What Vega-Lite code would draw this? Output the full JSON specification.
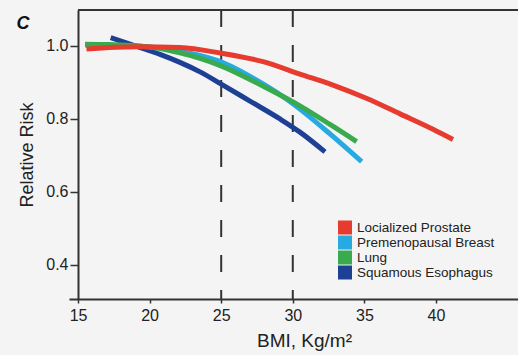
{
  "$schema": "https://vega.github.io/schema/vega-lite/v6.json",
  "width": 449,
  "height": 289,
  "autosize": "none",
  "padding": {"left": 69, "top": 10, "right": 0, "bottom": 56},
  "background": "#f4f4f4",
  "config": {
    "view": {"stroke": null},
    "font": "Liberation Sans"
  },
  "datasets": {
    "curves": [
      {"bmi": 17.28, "rr": 1.023, "site": "Squamous Esophagus"},
      {"bmi": 19.10, "rr": 0.999, "site": "Squamous Esophagus"},
      {"bmi": 20.73, "rr": 0.977, "site": "Squamous Esophagus"},
      {"bmi": 22.12, "rr": 0.955, "site": "Squamous Esophagus"},
      {"bmi": 23.52, "rr": 0.929, "site": "Squamous Esophagus"},
      {"bmi": 25.03, "rr": 0.895, "site": "Squamous Esophagus"},
      {"bmi": 27.01, "rr": 0.849, "site": "Squamous Esophagus"},
      {"bmi": 29.11, "rr": 0.800, "site": "Squamous Esophagus"},
      {"bmi": 30.50, "rr": 0.764, "site": "Squamous Esophagus"},
      {"bmi": 32.25, "rr": 0.710, "site": "Squamous Esophagus"},
      {"bmi": 15.49, "rr": 1.003, "site": "Premenopausal Breast"},
      {"bmi": 19.10, "rr": 1.000, "site": "Premenopausal Breast"},
      {"bmi": 22.12, "rr": 0.986, "site": "Premenopausal Breast"},
      {"bmi": 23.52, "rr": 0.974, "site": "Premenopausal Breast"},
      {"bmi": 25.03, "rr": 0.956, "site": "Premenopausal Breast"},
      {"bmi": 26.45, "rr": 0.929, "site": "Premenopausal Breast"},
      {"bmi": 27.92, "rr": 0.896, "site": "Premenopausal Breast"},
      {"bmi": 29.25, "rr": 0.863, "site": "Premenopausal Breast"},
      {"bmi": 30.50, "rr": 0.827, "site": "Premenopausal Breast"},
      {"bmi": 32.60, "rr": 0.759, "site": "Premenopausal Breast"},
      {"bmi": 34.81, "rr": 0.683, "site": "Premenopausal Breast"},
      {"bmi": 15.49, "rr": 1.005, "site": "Lung"},
      {"bmi": 17.23, "rr": 1.004, "site": "Lung"},
      {"bmi": 19.10, "rr": 1.001, "site": "Lung"},
      {"bmi": 20.73, "rr": 0.993, "site": "Lung"},
      {"bmi": 22.12, "rr": 0.981, "site": "Lung"},
      {"bmi": 23.52, "rr": 0.966, "site": "Lung"},
      {"bmi": 25.03, "rr": 0.945, "site": "Lung"},
      {"bmi": 27.92, "rr": 0.890, "site": "Lung"},
      {"bmi": 30.50, "rr": 0.836, "site": "Lung"},
      {"bmi": 32.60, "rr": 0.785, "site": "Lung"},
      {"bmi": 34.46, "rr": 0.738, "site": "Lung"},
      {"bmi": 15.59, "rr": 0.992, "site": "Locialized Prostate"},
      {"bmi": 19.10, "rr": 0.998, "site": "Locialized Prostate"},
      {"bmi": 22.12, "rr": 0.996, "site": "Locialized Prostate"},
      {"bmi": 25.03, "rr": 0.980, "site": "Locialized Prostate"},
      {"bmi": 27.92, "rr": 0.957, "site": "Locialized Prostate"},
      {"bmi": 30.50, "rr": 0.923, "site": "Locialized Prostate"},
      {"bmi": 32.81, "rr": 0.893, "site": "Locialized Prostate"},
      {"bmi": 35.18, "rr": 0.856, "site": "Locialized Prostate"},
      {"bmi": 37.49, "rr": 0.814, "site": "Locialized Prostate"},
      {"bmi": 39.79, "rr": 0.772, "site": "Locialized Prostate"},
      {"bmi": 41.19, "rr": 0.744, "site": "Locialized Prostate"}
    ],
    "cuts": [{"bmi": 25}, {"bmi": 30}],
    "frame": [{"x0": 15, "x1": 45.73, "ytop": 1.0986}],
    "panel": [{"label": "C"}]
  },
  "layer": [
    {
      "data": {"name": "cuts"},
      "mark": {"type": "rule", "strokeDash": [17, 18], "strokeWidth": 2, "color": "#333333"},
      "encoding": {
        "x": {"field": "bmi", "type": "quantitative", "scale": {"domain": [14.37, 45.73], "nice": false, "zero": false}}
      }
    },
    {
      "data": {"name": "frame"},
      "mark": {"type": "rule", "strokeWidth": 2, "color": "#333333"},
      "encoding": {
        "x": {"field": "x0", "type": "quantitative", "scale": {"domain": [14.37, 45.73], "nice": false, "zero": false}},
        "x2": {"field": "x1"},
        "y": {"field": "ytop", "type": "quantitative", "scale": {"domain": [0.3068, 1.0986], "nice": false, "zero": false}}
      }
    },
    {
      "data": {"name": "panel"},
      "mark": {"type": "text", "fontStyle": "italic", "fontWeight": "bold", "fontSize": 18, "font": "Liberation Sans", "color": "#111111", "align": "left", "baseline": "alphabetic", "clip": false},
      "encoding": {
        "x": {"datum": 10.7, "type": "quantitative", "scale": {"domain": [14.37, 45.73], "nice": false, "zero": false}},
        "y": {"datum": 1.047, "type": "quantitative", "scale": {"domain": [0.3068, 1.0986], "nice": false, "zero": false}},
        "text": {"field": "label"}
      }
    },
    {
      "data": {"name": "curves"},
      "mark": {"type": "line", "strokeWidth": 5, "interpolate": "monotone", "strokeCap": "butt"},
      "encoding": {
        "x": {
          "field": "bmi",
          "type": "quantitative",
          "scale": {"domain": [14.37, 45.73], "nice": false, "zero": false},
          "axis": {
            "values": [15, 20, 25, 30, 35, 40],
            "title": "BMI, Kg/m²",
            "grid": false,
            "domainColor": "#333333",
            "domainWidth": 2,
            "tickColor": "#333333",
            "tickSize": 4,
            "tickWidth": 1.5,
            "labelFontSize": 16,
            "labelColor": "#222222",
            "labelPadding": 4,
            "titleFontSize": 19,
            "titleFontWeight": "normal",
            "titleColor": "#222222",
            "titlePadding": 8,
            "titleX": 235
          }
        },
        "y": {
          "field": "rr",
          "type": "quantitative",
          "scale": {"domain": [0.3068, 1.0986], "nice": false, "zero": false},
          "axis": {
            "values": [0.4, 0.6, 0.8, 1.0],
            "format": ".1f",
            "title": "Relative Risk",
            "offset": -9,
            "grid": false,
            "domainColor": "#333333",
            "domainWidth": 2,
            "tickColor": "#333333",
            "tickSize": 8,
            "tickWidth": 1.5,
            "labelFontSize": 16,
            "labelColor": "#222222",
            "labelPadding": 2,
            "titleFontSize": 18,
            "titleFontWeight": "normal",
            "titleColor": "#222222",
            "titlePadding": 9
          }
        },
        "color": {
          "field": "site",
          "type": "nominal",
          "scale": {
            "domain": ["Locialized Prostate", "Premenopausal Breast", "Lung", "Squamous Esophagus"],
            "range": ["#e63b2e", "#27a9e1", "#3aaa4f", "#1d3f94"]
          },
          "legend": {
            "title": null,
            "orient": "none",
            "legendX": 269,
            "legendY": 210,
            "padding": 0,
            "symbolType": "square",
            "symbolSize": 49,
            "symbolStrokeWidth": 7,
            "labelFontSize": 13.5,
            "labelColor": "#222222",
            "labelOffset": 5,
            "clipHeight": 15,
            "rowPadding": 0
          }
        }
      }
    }
  ]
}
